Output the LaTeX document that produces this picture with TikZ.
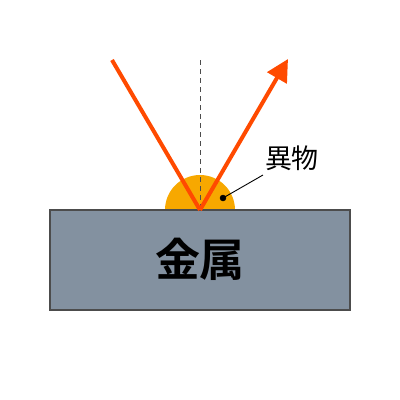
\documentclass[tikz,border=0pt]{standalone}
\usepackage{fontspec}
\newfontfamily\cjk{Noto Sans CJK JP}
\newfontfamily\cjkbold{Noto Sans CJK JP Bold}
\usetikzlibrary{calc,arrows.meta}
\definecolor{metalgray}{HTML}{8391A0}
\definecolor{beamred}{HTML}{FF4A00}
\definecolor{dirtorange}{HTML}{F7A800}
\def\dotnode{\node[circle,draw=black,fill=black,inner sep=0pt,minimum size=6pt]}

\begin{document}
\begin{tikzpicture}[x=1pt,y=-1pt]
\useasboundingbox (0,0) rectangle (400,400);
\coordinate (hit) at (200,210);
\coordinate (src) at (112,60);
\coordinate (dst) at (288,59);
\fill[dirtorange] (235,210) arc[start angle=0,end angle=-180,radius=35] -- cycle;
\node[draw=black!70,line width=1.2pt,fill=metalgray,minimum width=300pt,minimum height=100pt,inner sep=0pt] (metal) at (200,260) {};
\node (metallabel) at (200,259) {\cjkbold\fontsize{45}{45}\selectfont 金属};
\draw[dashed,black!70,line width=0.8pt,dash pattern=on 5pt off 4pt] (200,60) to (hit);
\draw[beamred,line width=4pt] (src) to (hit);
\draw[beamred,line width=4pt,-{Triangle[length=22pt,width=22pt]}] (hit) to (dst);
\dotnode (d) at (223,198) {};
\node (dirtlabel) at (292,158) {\cjk\fontsize{27}{27}\selectfont 異物};
\coordinate (lead) at (263,175);
\draw[line width=0.9pt] (lead) to (d.center);
\end{tikzpicture}
\end{document}
